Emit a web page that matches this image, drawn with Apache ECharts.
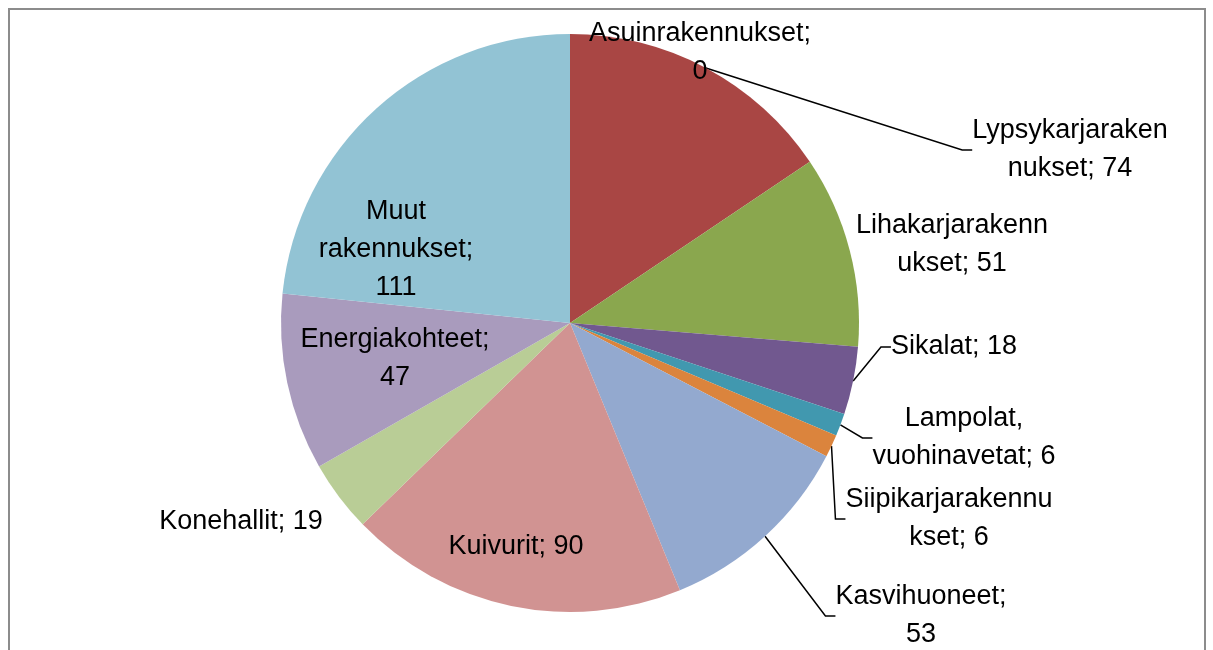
<!DOCTYPE html>
<html>
<head>
<meta charset="utf-8">
<script src="https://cdn.jsdelivr.net/npm/echarts@6/dist/echarts.min.js"></script>
<style>html,body{margin:0;padding:0;background:#fff}#c{width:1213px;height:650px}</style>
</head>
<body>
<div id="c"></div>
<script>
const categories = ['Asuinrakennukset', 'Lypsykarjaraken\nnukset', 'Lihakarjarakenn\nukset', 'Sikalat', 'Lampolat,\nvuohinavetat', 'Siipikarjarakennu\nkset', 'Kasvihuoneet;\n', 'Kuivurit', 'Konehallit', 'Energiakohteet;\n', 'Muut\nrakennukset;\n'];
const values = [0, 74, 51, 18, 6, 6, 53, 90, 19, 47, 111];
const colors = ['#4F81BD', '#A94644', '#8AA74E', '#71588F', '#4198AF', '#DB843D', '#93A9CF', '#D19392', '#B9CD96', '#A99BBD', '#92C3D4'];

// label styling / placement (layout only)
const labelText = (i) => {
  const n = categories[i];
  if (i === 0) return n + ';\n' + values[i];
  if (n.endsWith('\n')) return n + values[i];
  return n + '; ' + values[i];
};
const labelPos = [[700, 53], [1070, 150], [952, 245], [954, 347], [964, 438], [949, 519], [921, 616], [516, 547], [241, 522], [395, 359], [396, 250]];
const insideIdx = [7, 9, 10];
const noLine = [0, 2, 8];

const data = categories.map((c, i) => ({
  name: c,
  value: values[i],
  itemStyle: { color: colors[i] },
  label: { position: insideIdx.includes(i) ? 'inside' : 'outside' },
  labelLine: { show: !noLine.includes(i) && !insideIdx.includes(i) }
}));

const chart = echarts.init(document.getElementById('c'));
chart.setOption({
  backgroundColor: '#fff',
  animation: false,
  graphic: [{
    type: 'rect', shape: { x: 9, y: 9, width: 1196, height: 660 },
    style: { fill: 'none', stroke: '#8c8c8c', lineWidth: 2 }, z: 100, silent: true
  }],
  series: [{
    type: 'pie',
    center: [570, 323],
    radius: 289,
    startAngle: 90,
    clockwise: true,
    avoidLabelOverlap: false,
    stillShowZeroSum: true,
    data: data,
    itemStyle: { borderWidth: 0 },
    label: {
      show: true,
      color: '#000',
      fontFamily: 'Liberation Sans',
      fontSize: 27,
      lineHeight: 38,
      align: 'center',
      formatter: (p) => labelText(p.dataIndex)
    },
    labelLine: {
      show: true,
      length: 20,
      length2: 10,
      smooth: false,
      lineStyle: { color: '#000', width: 1.5 }
    },
    labelLayout: (p) => ({
      x: labelPos[p.dataIndex][0],
      y: labelPos[p.dataIndex][1],
      align: 'center',
      verticalAlign: 'middle'
    })
  }]
});
</script>
</body>
</html>
